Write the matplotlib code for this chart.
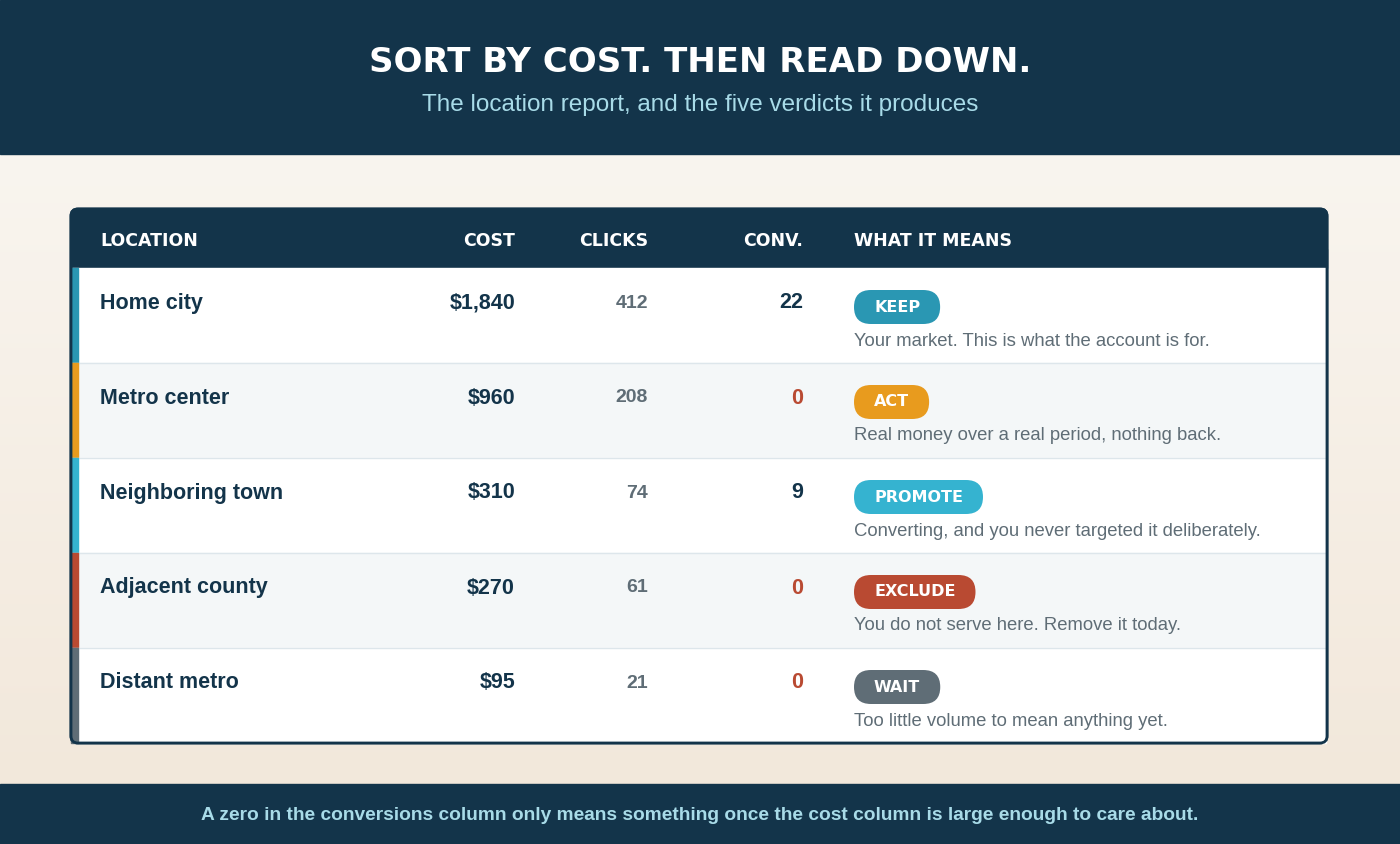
#!/usr/bin/env python3

import numpy as np
import matplotlib
matplotlib.use("Agg")
import matplotlib.pyplot as plt
from matplotlib.patches import Rectangle, FancyBboxPatch
from matplotlib.colors import LinearSegmentedColormap

plt.rcParams['font.family'] = ['Liberation Sans', 'DejaVu Sans']
WIDE = ['DejaVu Sans']  # wider face stands in for the letter-spaced caps

title = "SORT BY COST. THEN READ DOWN."
subtitle = "The location report, and the five verdicts it produces"
footer = "A zero in the conversions column only means something once the cost column is large enough to care about."

headers = ["LOCATION", "COST", "CLICKS", "CONV.", "WHAT IT MEANS"]
locations = ["Home city", "Metro center", "Neighboring town", "Adjacent county", "Distant metro"]
costs = [1840, 960, 310, 270, 95]
clicks = [412, 208, 74, 61, 21]
convs = [22, 0, 9, 0, 0]
verdicts = ["KEEP", "ACT", "PROMOTE", "EXCLUDE", "WAIT"]
notes = ["Your market. This is what the account is for.",
         "Real money over a real period, nothing back.",
         "Converting, and you never targeted it deliberately.",
         "You do not serve here. Remove it today.",
         "Too little volume to mean anything yet."]
verdict_colors = ["#2a97b3", "#e89b1e", "#35b3d0", "#b94a32", "#5f6d76"]

DARK = "#13344a"
GRAY = "#5f6d76"
RED = "#b94a32"

fig = plt.figure(figsize=(14, 8.44), dpi=100)
ax = fig.add_axes([0, 0, 1, 1])
ax.set_xlim(0, 1400)
ax.set_ylim(844, 0)
ax.axis('off')

# background gradient
grad = np.linspace(0, 1, 256).reshape(-1, 1)
cm = LinearSegmentedColormap.from_list("bg", ["#f9f5ef", "#f2e8db"])
ax.imshow(grad, cmap=cm, extent=[0, 1400, 784, 154], aspect='auto', zorder=0)

# top and bottom bands
ax.add_patch(Rectangle((0, 0), 1400, 154, color=DARK, zorder=1))
ax.add_patch(Rectangle((0, 784), 1400, 60, color=DARK, zorder=1))
ax.text(700, 62, title, color="white", fontsize=24.5, fontweight='bold', family=WIDE,
        ha='center', va='center', zorder=2)
ax.text(700, 105, subtitle, color="#a8dbe8", fontsize=17.5, ha='center', va='center', zorder=2)
ax.text(700, 815, footer, color="#a8dbe8", fontsize=13.8, fontweight='bold', ha='center', va='center', zorder=2)

# table frame
tx0, tx1, ty0, ty1 = 71, 1327, 209, 743
ax.add_patch(FancyBboxPatch((tx0, ty0), tx1 - tx0, ty1 - ty0, boxstyle="round,pad=0,rounding_size=7",
                            fc="white", ec=DARK, lw=2, zorder=2))
ax.add_patch(FancyBboxPatch((tx0, ty0), tx1 - tx0, 59, boxstyle="round,pad=0,rounding_size=7",
                            fc=DARK, ec=DARK, lw=1, zorder=3))
ax.add_patch(Rectangle((tx0, ty0 + 40), tx1 - tx0, 19, color=DARK, zorder=3))

col_x = [100, 515, 648, 803, 854]
col_ha = ['left', 'right', 'right', 'right', 'left']
for h, x, ha in zip(headers, col_x, col_ha):
    ax.text(x, 241, h, color="white", fontsize=12.5, fontweight='bold', family=WIDE,
            ha=ha, va='center', zorder=4)

row_h = 95
fig.canvas.draw()
renderer = fig.canvas.get_renderer()
for i in range(len(locations)):
    top = 268 + i * row_h
    fill = "white" if i % 2 == 0 else "#f4f7f8"
    ax.add_patch(Rectangle((tx0 + 1, top), tx1 - tx0 - 2, row_h, color=fill, zorder=3))
    if i > 0:
        ax.plot([tx0 + 1, tx1 - 1], [top, top], color="#dde6eb", lw=1, zorder=4)
    ax.add_patch(Rectangle((tx0, top), 7, row_h, color=verdict_colors[i], zorder=4))
    cy = top + 35
    ax.text(col_x[0], cy, locations[i], color=DARK, fontsize=15.5, fontweight='bold', ha='left', va='center', zorder=5)
    ax.text(col_x[1], cy, "${:,}".format(costs[i]), color=DARK, fontsize=15.5, fontweight='bold', ha='right', va='center', zorder=5)
    ax.text(col_x[2], cy, str(clicks[i]), color=GRAY, fontsize=14, fontweight='bold', ha='right', va='center', zorder=5)
    ax.text(col_x[3], cy, str(convs[i]), color=RED if convs[i] == 0 else DARK, fontsize=15.5,
            fontweight='bold', ha='right', va='center', zorder=5)
    # badge sized from its text
    by = top + 39
    t = ax.text(0, by, verdicts[i], color="white", fontsize=11.5, fontweight='bold', family=WIDE,
                ha='center', va='center', zorder=7)
    w = t.get_window_extent(renderer).width + 40
    ax.add_patch(FancyBboxPatch((col_x[4], by - 17), w, 34, boxstyle="round,pad=0,rounding_size=17",
                                fc=verdict_colors[i], ec='none', zorder=6))
    t.set_x(col_x[4] + w / 2)
    ax.text(col_x[4], top + 73, notes[i], color=GRAY, fontsize=13.3, ha='left', va='center', zorder=5)

# frame outline on top
ax.add_patch(FancyBboxPatch((tx0, ty0), tx1 - tx0, ty1 - ty0, boxstyle="round,pad=0,rounding_size=7",
                            fc="none", ec=DARK, lw=2, zorder=8))

fig.savefig("out.png", dpi=100)
